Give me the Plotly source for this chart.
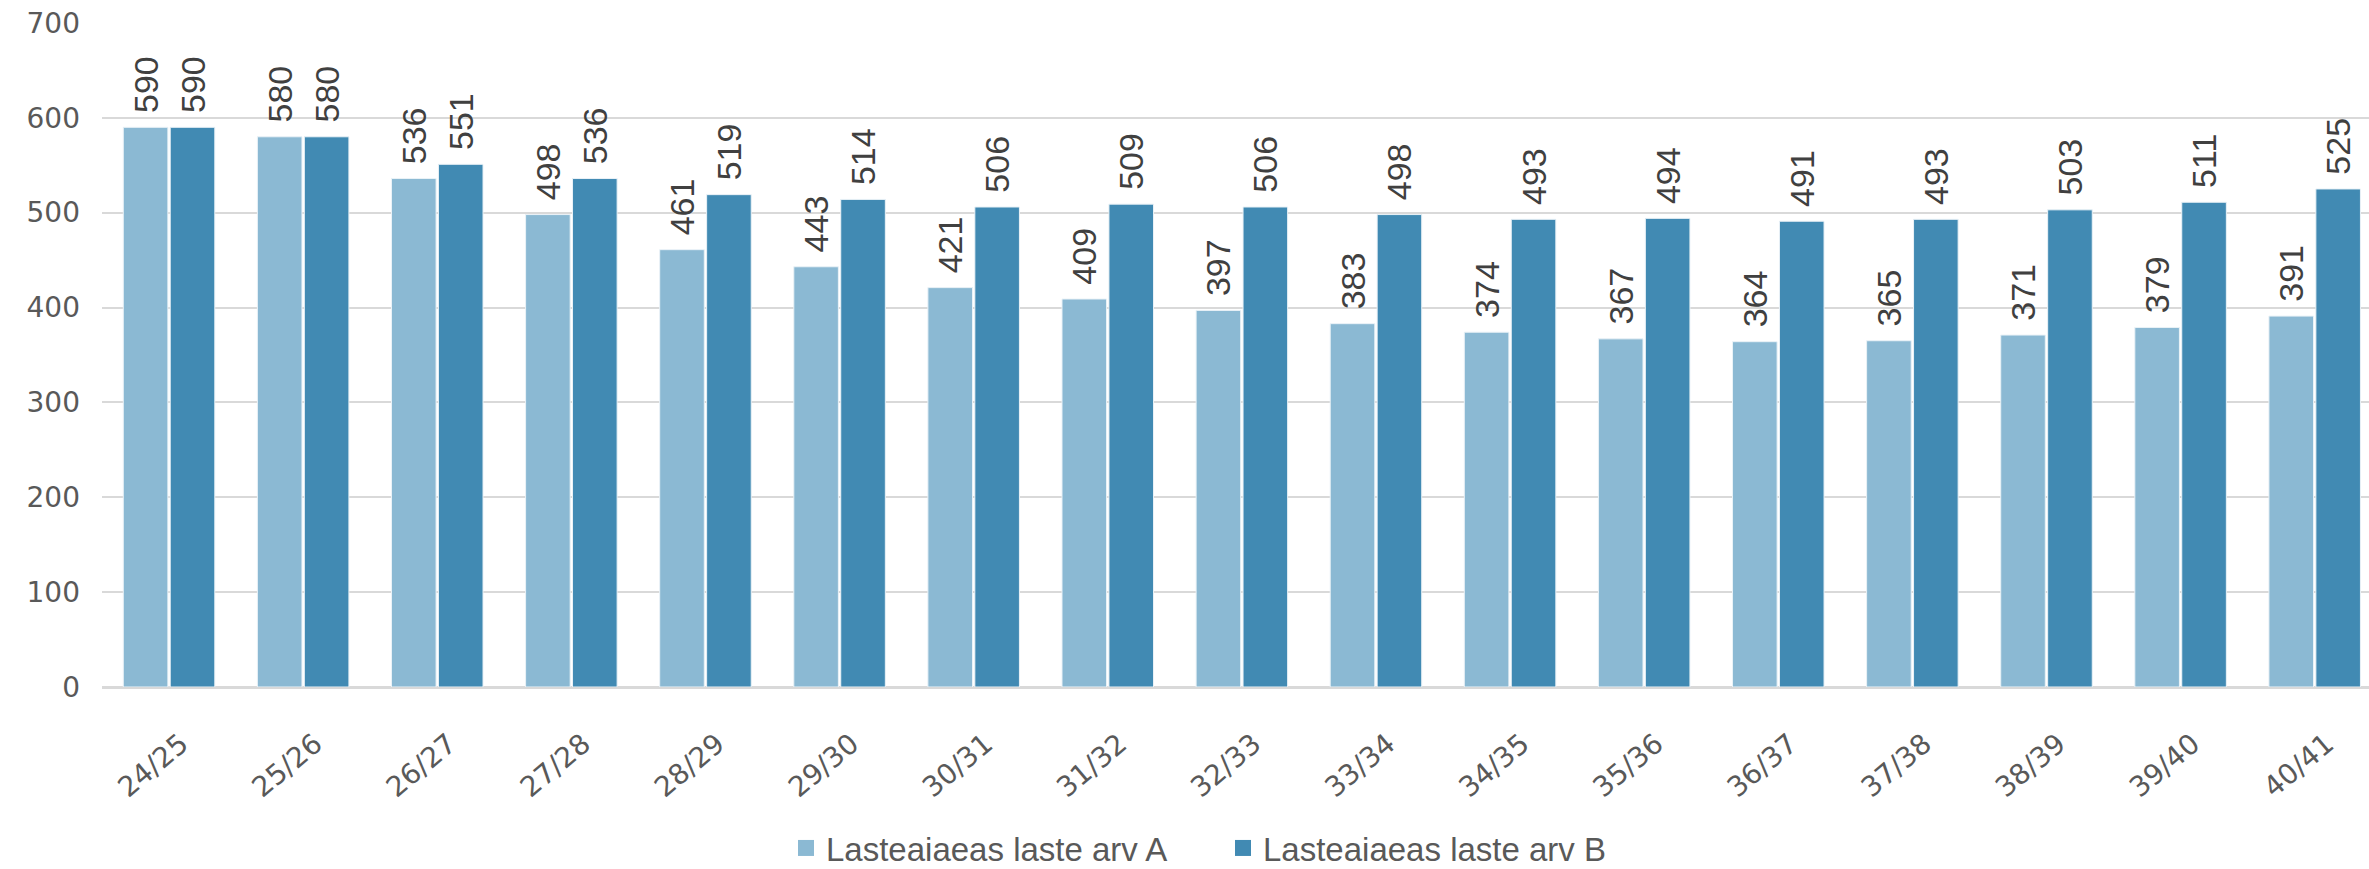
import plotly.graph_objects as go

categories = ["24/25", "25/26", "26/27", "27/28", "28/29", "29/30", "30/31", "31/32", "32/33",
              "33/34", "34/35", "35/36", "36/37", "37/38", "38/39", "39/40", "40/41"]
series_a = [590, 580, 536, 498, 461, 443, 421, 409, 397, 383, 374, 367, 364, 365, 371, 379, 391]
series_b = [590, 580, 551, 536, 519, 514, 506, 509, 506, 498, 493, 494, 491, 493, 503, 511, 525]
name_a = "Lasteaiaeas laste arv A"
name_b = "Lasteaiaeas laste arv B"
y_ticks = [0, 100, 200, 300, 400, 500, 600, 700]

color_a = "#8BB9D3"
color_b = "#418AB3"
# invisible spacer so the value labels sit a little above the bars, as in the reference
gap = '<span style="color:rgba(0,0,0,0)">-</span>'

label_font = dict(family="Liberation Sans, Arial", size=34, color="#404040")
tick_font = dict(family="DejaVu Sans", size=28, color="#595959")

fig = go.Figure()
for name, vals, col in [(name_a, series_a, color_a), (name_b, series_b, color_b)]:
    fig.add_trace(go.Bar(
        x=categories, y=vals, name=name, showlegend=False,
        marker=dict(color=col, line=dict(color="#EAF2F7", width=1)),
        text=[gap + str(v) for v in vals], textposition="outside", textangle=-90,
        constraintext="none", textfont=label_font, cliponaxis=False,
    ))
# legend entries with larger square swatches
for name, col in [(name_a, color_a), (name_b, color_b)]:
    fig.add_trace(go.Scatter(
        x=[None], y=[None], mode="markers", name=name,
        marker=dict(symbol="square", size=20, color=col),
    ))

fig.update_layout(
    width=2369, height=869,
    margin=dict(l=102, r=0, t=22, b=182),
    paper_bgcolor="white", plot_bgcolor="white",
    barmode="group", bargap=0.30, bargroupgap=0.05,
    legend=dict(orientation="h", xref="container", yref="container",
                x=786 / 2369, xanchor="left", y=1 - 848 / 869, yanchor="middle",
                font=dict(family="Liberation Sans, Arial", size=33, color="#595959"),
                entrywidth=392, entrywidthmode="pixels", tracegroupgap=0,
                bgcolor="rgba(0,0,0,0)"),
    showlegend=True,
)
fig.update_xaxes(
    range=[-0.5, 16.405], tickangle=-40,
    tickfont=tick_font, automargin=False,
    showgrid=False, showline=False, ticks="",
    ticklabelstandoff=34, ticklabelshift=12,
)
fig.update_yaxes(
    range=[0, 701], tickvals=y_ticks, automargin=False,
    tickfont=tick_font,
    showgrid=True, gridcolor="#D9D9D9", gridwidth=2,
    zeroline=True, zerolinecolor="#D9D9D9", zerolinewidth=3,
    ticks="", ticklabelstandoff=21,
)

fig.write_html("out.html", config={"displayModeBar": False},
               post_script="document.body.style.margin='0';document.body.style.overflow='hidden';")
